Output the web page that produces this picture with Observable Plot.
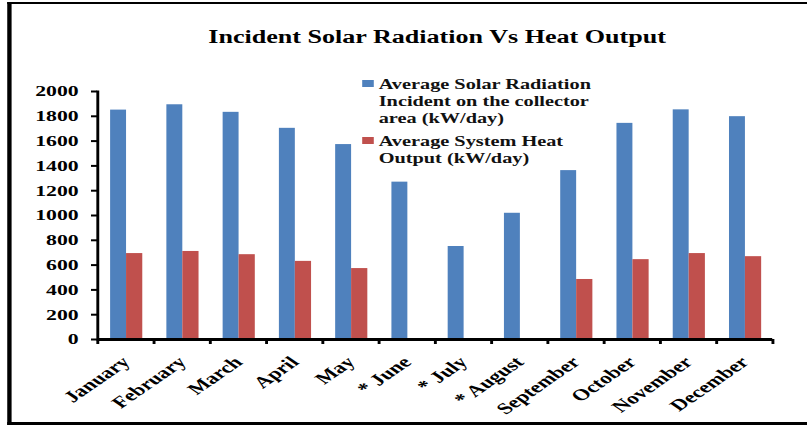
<!DOCTYPE html>
<html>
<head>
<meta charset="utf-8">
<script src="https://cdn.jsdelivr.net/npm/d3@7"></script>
<script src="https://cdn.jsdelivr.net/npm/@observablehq/plot@0.6"></script>
<style>
  html, body { margin: 0; padding: 0; background: #fff; overflow: hidden; }
  #wrap { position: relative; width: 557px; height: 425px; transform: scaleX(1.4488); transform-origin: 0 0; font-family: "Liberation Serif", "Times New Roman", serif; font-weight: bold; }
  #border { position: absolute; left: 5.2px; top: 2px; width: 700px; height: 418px; border-left: 3px solid #000; border-top: 2.5px solid #000; border-bottom: 3px solid #000; }
  #title { position: absolute; left: 301.7px; top: 28px; transform: translateX(-50%); font-size: 18px; line-height: 18px; white-space: nowrap; color: #000; }
  #chart { position: absolute; left: 0; top: 0; }
  #legend { position: absolute; left: 250px; top: 76px; font-size: 14px; line-height: 17px; color: #111; }
  .item { display: flex; align-items: flex-start; }
  .sw { width: 8px; height: 7px; margin-top: 4px; margin-right: 3.4px; flex: none; }
</style>
</head>
<body>
<div id="wrap">
  <div id="border"></div>
  <div id="chart"></div>
  <div id="title"></div>
  <div id="legend"></div>
</div>
<script>
const title = "Incident Solar Radiation Vs Heat Output";
const months = ["January", "February", "March", "April", "May", "* June", "* July", "* August", "September", "October", "November", "December"];
const solar = [1850, 1893, 1832, 1703, 1572, 1269, 750, 1018, 1362, 1743, 1852, 1797];
const heat = [693, 710, 684, 630, 572, null, null, null, 484, 644, 693, 668];
const yTicks = [0, 200, 400, 600, 800, 1000, 1200, 1400, 1600, 1800, 2000];
const seriesNames = [["Average Solar Radiation", "Incident on the collector", "area (kW/day)"], ["Average System Heat", "Output (kW/day)"]];
const colors = ["#4F81BD", "#C0504D"];

const rows = months.map((m, i) => ({month: m, solar: solar[i], heat: heat[i]}));

const W = 557, H = 425, mL = 67, mR = 24;
const band = (W - mL - mR) / months.length;

const chart = Plot.plot({
  width: W, height: H,
  marginTop: 91, marginBottom: 86, marginLeft: mL, marginRight: mR,
  style: {fontFamily: "Liberation Serif, serif", fontWeight: "bold", fontSize: "15px", color: "#000", background: "transparent", overflow: "visible"},
  x: {domain: months, padding: 0, round: false, label: null},
  y: {domain: [0, 2000], label: null},
  marks: [
    Plot.barY(rows, {x: "month", y: "solar", fill: colors[0], insetLeft: 9, insetRight: band - 20}),
    Plot.barY(rows.filter(d => d.heat != null), {x: "month", y: "heat", fill: colors[1], insetLeft: 20, insetRight: band - 31.2}),
    Plot.axisY({ticks: yTicks, tickFormat: d => String(d), tickSize: 4.2, tickPadding: 9, strokeWidth: 2, fontSize: 15, fontWeight: "bold", label: null}),
    Plot.axisX({tickSize: 0, tickRotate: -45, tickPadding: 20, fontSize: 16, fontWeight: "bold", label: null}),
    Plot.axisX({tickSize: 5, text: null, dx: -band / 2, strokeWidth: 2, label: null}),
    Plot.axisX({ticks: [months[months.length - 1]], tickSize: 5, text: null, dx: band / 2, strokeWidth: 2, label: null}),
    Plot.ruleY([0], {strokeWidth: 3}),
    Plot.frame({anchor: "left", strokeWidth: 2})
  ]
});
document.getElementById("chart").appendChild(chart);
document.getElementById("title").textContent = title;

const legend = document.getElementById("legend");
seriesNames.forEach((lines, i) => {
  const item = document.createElement("div");
  item.className = "item";
  if (i > 0) item.style.marginTop = "6px";
  const sw = document.createElement("div");
  sw.className = "sw";
  sw.style.background = colors[i];
  const txt = document.createElement("div");
  lines.forEach((l, j) => {
    if (j) txt.appendChild(document.createElement("br"));
    txt.appendChild(document.createTextNode(l));
  });
  item.appendChild(sw);
  item.appendChild(txt);
  legend.appendChild(item);
});
</script>
</body>
</html>
